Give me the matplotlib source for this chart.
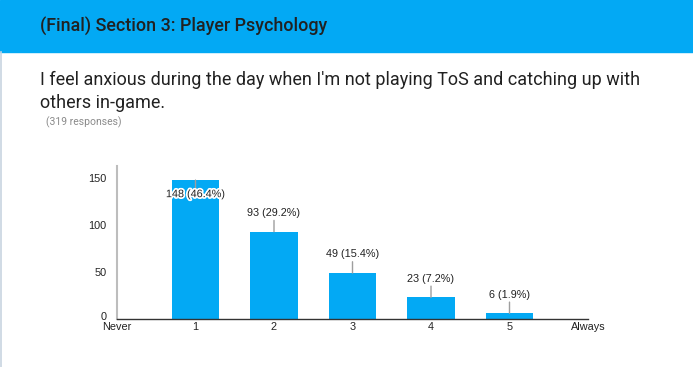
import matplotlib.pyplot as plt
import matplotlib.patheffects as pe
import matplotlib.transforms as mtransforms

# Data
categories = ['1', '2', '3', '4', '5']
positions = [1, 2, 3, 4, 5]
counts = [148, 93, 49, 23, 6]
labels = ['148 (46.4%)', '93 (29.2%)', '49 (15.4%)', '23 (7.2%)', '6 (1.9%)']
tick_pos = [0, 1, 2, 3, 4, 5, 6]
tick_labels = ['Never', '1', '2', '3', '4', '5', 'Always']

W, H = 693, 367
blue = '#03a9f4'

fig = plt.figure(figsize=(W / 100, H / 100), dpi=100)
fig.patch.set_facecolor('white')

# header band
fig.patches.append(plt.Rectangle((0, 1 - 52 / H), 1, 52 / H, transform=fig.transFigure,
                                 color=blue, zorder=0))
# light left border
fig.add_artist(plt.Line2D([0.7 / W, 0.7 / W], [0, 1 - 52 / H], transform=fig.transFigure,
                          color='#c8d4e0', lw=1.2))

fig.text(40 / W, 1 - 27 / H, '(Final) Section 3: Player Psychology', family='Roboto',
         fontsize=12.9, weight='medium', color='#212121', va='center')
fig.text(40 / W, 1 - 80 / H, "I feel anxious during the day when I'm not playing ToS and catching up with",
         family='Roboto', fontsize=12.95, color='#212121', va='center')
fig.text(40 / W, 1 - 103 / H, 'others in-game.',
         family='Roboto', fontsize=12.95, color='#212121', va='center')
fig.text(46 / W, 1 - 122 / H, '(319 responses)',
         family='Roboto', fontsize=7.5, color='#8a8a8a', va='center')

ax = fig.add_axes([117 / W, (H - 319) / H, (588 - 117) / W, (319 - 166) / H])
ax.bar(positions, counts, width=0.61, color=blue, zorder=2)
ax.set_xlim(0, 6)
ax.set_ylim(0, 163)
ax.set_yticks([0, 50, 100, 150])
ax.set_xticks(tick_pos)
ax.set_xticklabels(tick_labels)
for s in ['top', 'right']:
    ax.spines[s].set_visible(False)
ax.spines['left'].set_color('#bdbdbd')
ax.spines['left'].set_linewidth(1.5)
ax.spines['bottom'].set_color('#333333')
ax.spines['bottom'].set_linewidth(1)
ax.tick_params(length=0, labelsize=7.8, colors='#222222', pad=2)
for t in ax.get_xticklabels() + ax.get_yticklabels():
    t.set_family('Liberation Sans')
ax.tick_params(axis='y', pad=7.5)

# lift the "0" label a little so it clears "Never"
zero = ax.get_yticklabels()[0]
zero.set_transform(zero.get_transform() + mtransforms.ScaledTranslation(0, 3 / 100, fig.dpi_scale_trans))

for x, v, lab in zip(positions, counts, labels):
    if v > 140:
        ax.annotate('', xy=(x, v), xytext=(x, v - 11), xycoords='data',
                    arrowprops=dict(arrowstyle='-', color='#9e9e9e', lw=1, shrinkA=0, shrinkB=0))
        ax.text(x, v - 15, lab, ha='center', va='center', fontsize=7.8, family='Liberation Sans',
                color='#222222', zorder=5,
                path_effects=[pe.withStroke(linewidth=2.5, foreground='white')])
    else:
        ax.annotate('', xy=(x, v), xytext=(x, v + 12), xycoords='data',
                    arrowprops=dict(arrowstyle='-', color='#9e9e9e', lw=1, shrinkA=0, shrinkB=0))
        ax.text(x, v + 20, lab, ha='center', va='center', fontsize=7.8, family='Liberation Sans',
                color='#222222')

fig.savefig('out.png', dpi=100)
